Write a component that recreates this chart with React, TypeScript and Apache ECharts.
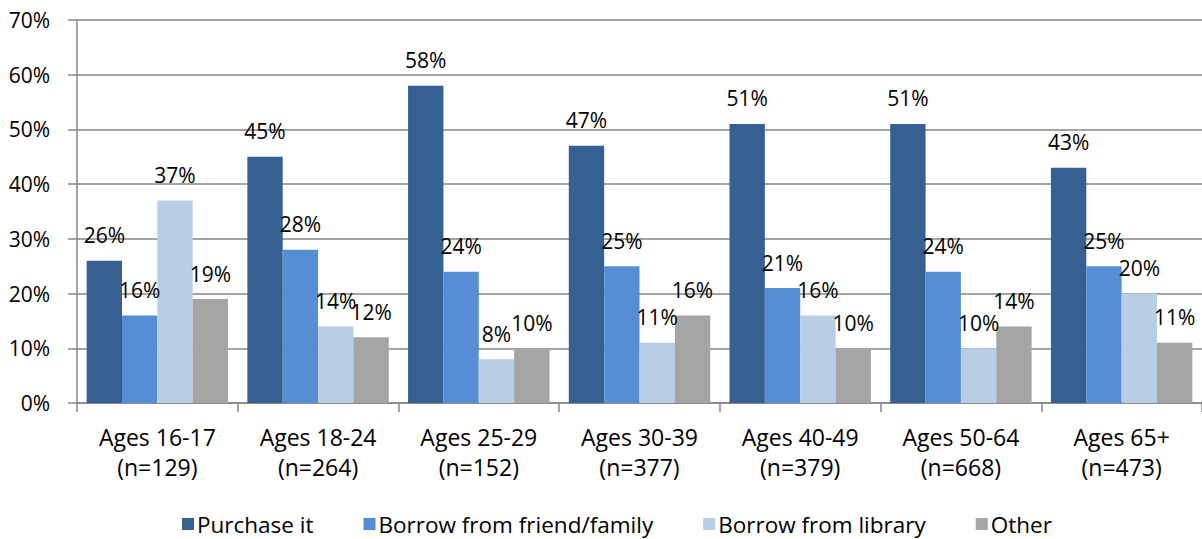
import React, { useEffect, useRef } from "react";
import * as echarts from "echarts";

const categories = [
  "Ages 16-17\n(n=129)",
  "Ages 18-24\n(n=264)",
  "Ages 25-29\n(n=152)",
  "Ages 30-39\n(n=377)",
  "Ages 40-49\n(n=379)",
  "Ages 50-64\n(n=668)",
  "Ages 65+\n(n=473)",
];
const seriesNames = ["Purchase it", "Borrow from friend/family", "Borrow from library", "Other"];
const purchase = [26, 45, 58, 47, 51, 51, 43];
const friendFamily = [16, 28, 24, 25, 21, 24, 25];
const library = [37, 14, 8, 11, 16, 10, 20];
const other = [19, 12, 10, 16, 10, 14, 11];
const colors = ["#366092", "#558ed5", "#b9cde5", "#a5a5a5"];

const FONT = "Open Sans";

export default function App() {
  const ref = useRef<HTMLDivElement>(null);
  useEffect(() => {
    if (!ref.current) return;
    const chart = echarts.init(ref.current, null, { renderer: "svg" });
    const values = [purchase, friendFamily, library, other];
    chart.setOption({
      animation: false,
      textStyle: { fontFamily: FONT },
      grid: { left: 77, right: -4, top: 20, bottom: 136, containLabel: false },
      legend: {
        left: 182,
        top: 512,
        padding: 0,
        itemWidth: 12,
        itemHeight: 12,
        itemGap: 50,
        icon: "rect",
        textStyle: { fontFamily: FONT, fontSize: 22.5, lineHeight: 24, color: "#000", padding: [0, 0, 0, -2] },
        data: seriesNames,
      },
      xAxis: {
        type: "category",
        data: categories,
        axisLine: { lineStyle: { color: "#868686", width: 1.5 } },
        axisTick: { show: true, length: 9, lineStyle: { color: "#868686", width: 1.5 } },
        axisLabel: { color: "#000", fontSize: 23, fontFamily: FONT, lineHeight: 30, margin: 19 },
      },
      yAxis: {
        type: "value",
        min: 0,
        max: 70,
        interval: 10,
        axisLine: { show: true, lineStyle: { color: "#868686", width: 1.5 } },
        axisTick: { show: true, length: 9, lineStyle: { color: "#868686", width: 1.5 } },
        splitLine: { lineStyle: { color: "#868686", width: 1.5 } },
        axisLabel: { color: "#000", fontSize: 21, fontFamily: FONT, margin: 27, formatter: "{value}%" },
      },
      series: seriesNames.map((name, i) => ({
        name,
        type: "bar",
        data: values[i],
        barGap: "0%",
        barCategoryGap: "12%",
        itemStyle: { color: colors[i] },
        label: {
          show: true,
          position: "top",
          distance: 15,
          color: "#000",
          fontSize: 21,
          fontFamily: FONT,
          formatter: "{c}%",
        },
      })),
    });
    return () => chart.dispose();
  }, []);
  return <div ref={ref} style={{ width: 1202, height: 539, position: "absolute", left: 0, top: 0 }} />;
}
